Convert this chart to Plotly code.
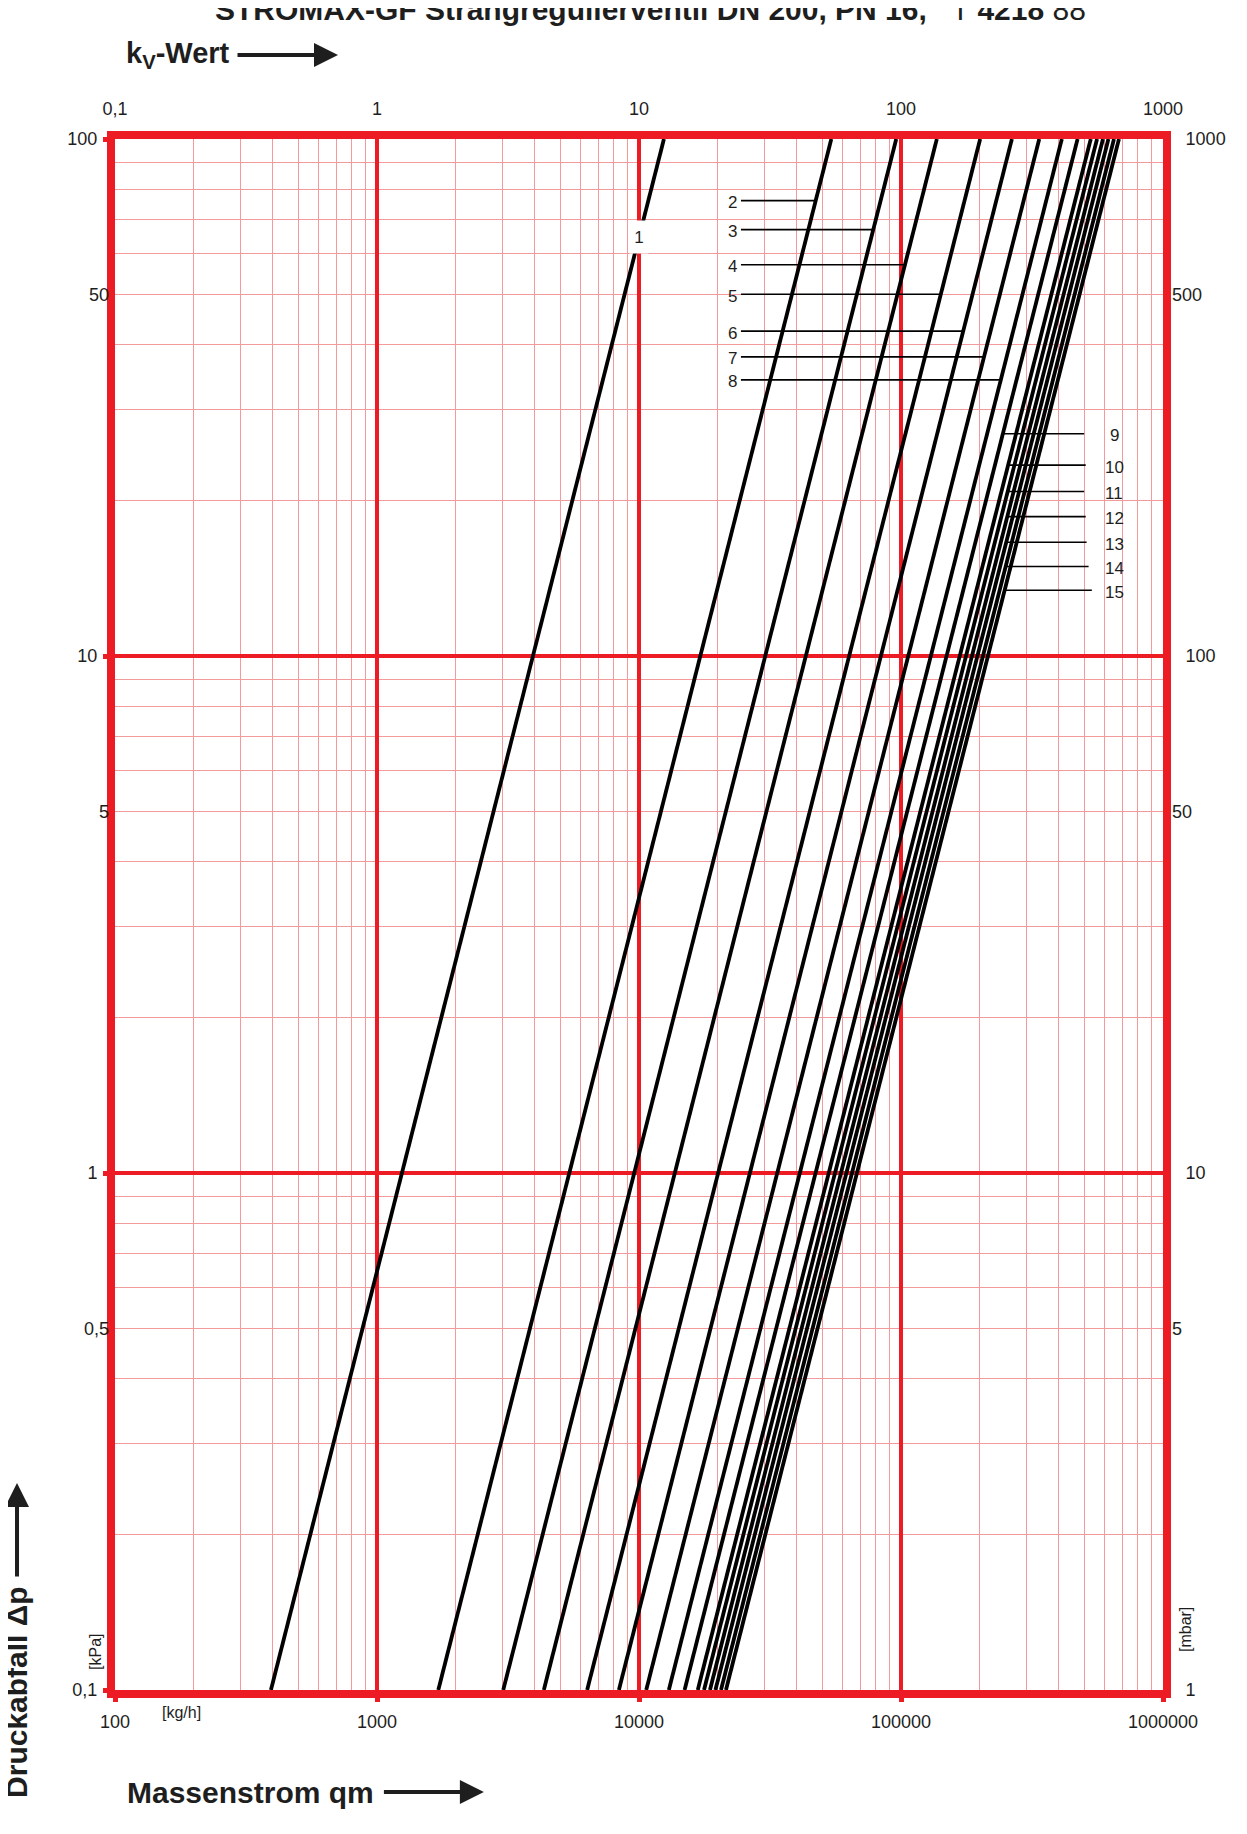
import numpy as np
import plotly.graph_objects as go

# kv values of the 15 presetting curves (read at the top edge, dp = 100 kPa)
curve_names = [str(i) for i in range(1, 16)]
kv_values = [12.45, 54.2, 95.9, 137, 200.5, 265, 337, 411, 472, 530, 560, 590, 619, 650, 679]
dp_ends = [0.1, 100]  # kPa, bottom and top of the chart

# leader lines of labels 2..8 (left side, start at a common x and run to the curve)
left_names = ["2", "3", "4", "5", "6", "7", "8"]
left_dp = [76.0, 66.8, 57.1, 50.1, 42.5, 37.9, 34.2]
left_start_qm = 24500
left_label_qm = 22700

# leader lines of labels 9..15 (right side, from the curve to the right)
right_names = ["9", "10", "11", "12", "13", "14", "15"]
right_dp = [26.9, 23.4, 20.8, 18.6, 16.6, 14.9, 13.4]
right_end_qm = [500000, 507000, 500000, 507000, 511000, 520000, 535000]
right_label_qm = 652000

# label "1" sits on the curve in a white box
label1_qm = 10000
label1_dp = 64.6

# axis ticks
qm_ticks = [100, 1000, 10000, 100000, 1000000]
qm_ticktext = ["100", "1000", "10000", "100000", "1000000"]
kv_ticks = [0.1, 1, 10, 100, 1000]
kv_ticktext = ["0,1", "1", "10", "100", "1000"]
kpa_ticks = [0.1, 1, 10, 100]
kpa_ticktext = ["0,1", "1", "10", "100"]
kpa_half = [0.5, 5, 50]
kpa_half_text = ["0,5", "5", "50"]
mbar_ticks = [1, 10, 100, 1000]
mbar_ticktext = ["1", "10", "100", "1000"]
mbar_half = [5, 50, 500]
mbar_half_text = ["5", "50", "500"]

RED = "#ed1c24"
MINOR = "#f39a9d"
INK = "#1e1e1e"
SANS = "Liberation Sans, Arial, sans-serif"
TICKFONT = dict(family=SANS, size=18, color=INK)


def qm_for(kv, dp):
    # mass flow in kg/h for a kv value (m3/h) at dp in kPa
    return kv * 1000 * np.sqrt(dp / 100.0)


def minor_vals(lo, hi):
    vals = []
    for e in range(lo, hi):
        for m in range(2, 10):
            vals.append(m * 10 ** e)
    return vals


fig = go.Figure()

for name, kv in zip(curve_names, kv_values):
    fig.add_trace(go.Scatter(
        x=[qm_for(kv, d) for d in dp_ends], y=dp_ends, mode="lines",
        line=dict(color="black", width=3.8), name=name, hoverinfo="skip",
    ))

for name, dp in zip(left_names, left_dp):
    kv = kv_values[curve_names.index(name)]
    fig.add_trace(go.Scatter(
        x=[left_start_qm, qm_for(kv, dp)], y=[dp, dp], mode="lines",
        line=dict(color="black", width=1.6), hoverinfo="skip",
    ))
    fig.add_annotation(x=np.log10(left_label_qm), y=np.log10(dp), xref="x", yref="y",
                       xanchor="center", yanchor="middle",
                       text=name, showarrow=False, yshift=-2,
                       font=dict(family=SANS, size=17, color=INK))

for name, dp, end in zip(right_names, right_dp, right_end_qm):
    kv = kv_values[curve_names.index(name)]
    fig.add_trace(go.Scatter(
        x=[qm_for(kv, dp), end], y=[dp, dp], mode="lines",
        line=dict(color="black", width=1.6), hoverinfo="skip",
    ))
    fig.add_annotation(x=np.log10(right_label_qm), y=np.log10(dp), xref="x", yref="y",
                       xanchor="center", yanchor="middle",
                       text=name, showarrow=False, yshift=-2,
                       font=dict(family=SANS, size=17, color=INK))

fig.add_annotation(x=np.log10(label1_qm), y=np.log10(label1_dp), xref="x", yref="y",
                   xanchor="center", yanchor="middle",
                   text="1", showarrow=False, bgcolor="white", width=16, height=30,
                   font=dict(family=SANS, size=17, color=INK))

# helper traces so the secondary axes get drawn
fig.add_trace(go.Scatter(x=[None], y=[None], xaxis="x2", yaxis="y2", hoverinfo="skip"))
fig.add_trace(go.Scatter(x=[None], y=[None], xaxis="x", yaxis="y3", hoverinfo="skip"))
fig.add_trace(go.Scatter(x=[None], y=[None], xaxis="x", yaxis="y4", hoverinfo="skip"))

major_ticks = dict(ticks="outside", ticklen=4, tickwidth=5, tickcolor=RED, tickfont=TICKFONT)

# the page body has an 8px margin, so the figure is 16px smaller than the window
fig.update_layout(
    width=1231, height=1818,
    margin=dict(l=107, r=76, t=131, b=136),
    paper_bgcolor="white", plot_bgcolor="white",
    showlegend=False,
    xaxis=dict(type="log", range=[2, 6], tickmode="array", tickvals=qm_ticks, ticktext=qm_ticktext,
               showgrid=True, gridcolor=RED, gridwidth=3.5,
               minor=dict(tickmode="array", tickvals=minor_vals(2, 6), showgrid=True,
                          gridcolor=MINOR, gridwidth=1, ticks=""),
               showline=True, linecolor=RED, linewidth=8, mirror=True,
               ticklabelstandoff=4, **major_ticks),
    xaxis2=dict(type="log", range=[-1, 3], overlaying="x", side="top", anchor="y2",
                tickmode="array", tickvals=kv_ticks, ticktext=kv_ticktext,
                showgrid=False, showline=False, ticklabelstandoff=12, **major_ticks),
    yaxis=dict(type="log", range=[-1, 2], tickmode="array", tickvals=kpa_ticks, ticktext=kpa_ticktext,
               showgrid=True, gridcolor=RED, gridwidth=3.5,
               minor=dict(tickmode="array", tickvals=minor_vals(-1, 2), showgrid=True,
                          gridcolor=MINOR, gridwidth=1, ticks=""),
               showline=True, linecolor=RED, linewidth=8, mirror=True,
               ticklabelstandoff=2, **major_ticks),
    yaxis2=dict(type="log", range=[0, 3], overlaying="y", side="right", anchor="x2",
                tickmode="array", tickvals=mbar_ticks, ticktext=mbar_ticktext,
                showgrid=False, showline=False, ticklabelstandoff=14, **major_ticks),
    yaxis3=dict(type="log", range=[-1, 2], overlaying="y", side="left",
                tickmode="array", tickvals=kpa_half, ticktext=kpa_half_text,
                showgrid=False, showline=False, ticks="", tickfont=TICKFONT,
                ticklabelstandoff=5),
    yaxis4=dict(type="log", range=[0, 3], overlaying="y", side="right", anchor="x",
                tickmode="array", tickvals=mbar_half, ticktext=mbar_half_text,
                showgrid=False, showline=False, ticks="", tickfont=TICKFONT,
                ticklabelstandoff=8),
)

# texts around the chart
fig.add_annotation(x=0.5105, y=1.0838, xref="paper", yref="paper", showarrow=False,
                   xanchor="center", yanchor="middle",
                   text="<b>STROMAX-GF Strangregulierventil DN 200, PN 16,</b>   T <b>4218</b> 88",
                   font=dict(family=SANS, size=30, color=INK))
fig.add_annotation(x=0.2128, y=1.0542, xref="paper", yref="paper",
                   ax=-160, ay=0, startstandoff=6,
                   text="<b>k<sub>V</sub>-Wert</b>", showarrow=True,
                   arrowhead=2, arrowsize=1.2, arrowwidth=4, arrowcolor=INK,
                   font=dict(family=SANS, size=29, color=INK))
fig.add_annotation(x=0.352, y=-0.0658, xref="paper", yref="paper",
                   ax=-233, ay=0, startstandoff=8,
                   text="<b>Massenstrom qm</b>", showarrow=True,
                   arrowhead=2, arrowsize=1.2, arrowwidth=4, arrowcolor=INK,
                   font=dict(family=SANS, size=30, color=INK))
fig.add_annotation(x=-0.0935, y=0.1335, xref="paper", yref="paper",
                   ax=0, ay=209, startstandoff=8, textangle=-90,
                   text="<b>Druckabfall \u0394p</b>", showarrow=True,
                   arrowhead=2, arrowsize=1.2, arrowwidth=4, arrowcolor=INK,
                   font=dict(family=SANS, size=30, color=INK))
fig.add_annotation(x=-0.0191, y=0.0245, xref="paper", yref="paper", showarrow=False,
                   xanchor="center", yanchor="middle", textangle=-90, text="[kPa]",
                   font=dict(family=SANS, size=16, color=INK))
fig.add_annotation(x=1.022, y=0.0387, xref="paper", yref="paper", showarrow=False,
                   xanchor="center", yanchor="middle", textangle=-90, text="[mbar]",
                   font=dict(family=SANS, size=16, color=INK))
fig.add_annotation(x=0.0639, y=-0.0148, xref="paper", yref="paper", showarrow=False,
                   xanchor="center", yanchor="middle", text="[kg/h]",
                   font=dict(family=SANS, size=16, color=INK))

fig.write_html("out.html")
